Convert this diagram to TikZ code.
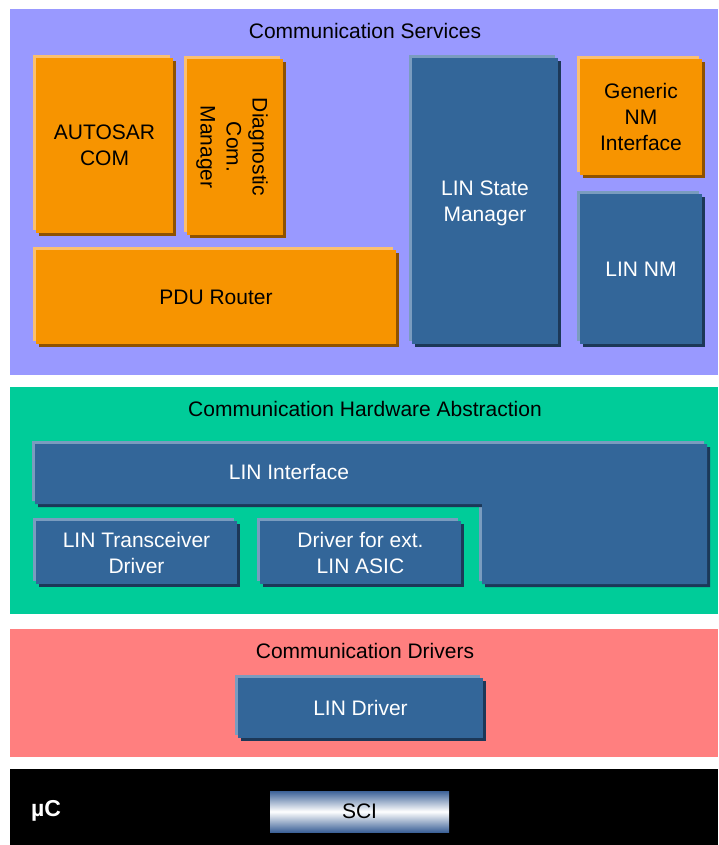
\documentclass[tikz,border=0pt]{standalone}
\usepackage{fontspec}
\setmainfont{Liberation Sans}
\definecolor{svc}{HTML}{9999FF}
\definecolor{hwa}{HTML}{00CC99}
\definecolor{drv}{HTML}{FF7F7F}
\definecolor{orF}{HTML}{F79400}
\definecolor{orL}{HTML}{FBC070}
\definecolor{orD}{HTML}{8F5200}
\definecolor{blF}{HTML}{336699}
\definecolor{blL}{HTML}{7A9CBF}
\definecolor{blD}{HTML}{1C3858}
\definecolor{sciB}{HTML}{3D6298}
\colorlet{orT}{black}
\colorlet{blT}{white}
\newcommand\bevbox[8]{%
  \fill[#6L] (#2-3,#3-3) rectangle (#4-3,#5-3);
  \fill[#6D] (#2+3,#3+3) rectangle (#4+3,#5+3);
  \node[fill=#6F, text=#6T, txt, align=center, inner sep=0pt, outer sep=0pt,
        minimum width={#4-#2}, minimum height={#5-#3}, #7] (#1)
        at ({(#2+#4)/2},{(#3+#5)/2}) {#8};%
}
\begin{document}
\begin{tikzpicture}[x=1pt,y=-1pt,
  txt/.style={font=\fontsize{21}{26}\selectfont},
  layer/.style={anchor=north west, inner sep=0pt, outer sep=0pt, minimum width=708},
  ttl/.style={txt, text=black, inner sep=0pt}]
\useasboundingbox (0,0) rectangle (718,845);
\fill[white] (0,0) rectangle (718,845);
% layers
\node[layer, fill=svc, minimum height=366] (services) at (10,9) {};
\node[layer, fill=hwa, minimum height=227] (hwabs) at (10,387) {};
\node[layer, fill=drv, minimum height=128] (drivers) at (10,629) {};
\node[layer, fill=black, minimum height=76] (mcu) at (10,769) {};
\node[ttl] (tsvc) at (365,31) {Communication Services};
\node[ttl] (thwa) at (365,409) {Communication Hardware Abstraction};
\node[ttl] (tdrv) at (365,651) {Communication Drivers};
% communication services
\bevbox{acom}{36}{58}{173}{233}{or}{}{AUTOSAR\\COM}
\bevbox{dcm}{187}{59}{283}{235}{or}{}{}
\node[txt, text=black, rotate=-90, align=center, inner sep=0pt] (dcmtxt) at ([xshift=-3]dcm.center) {Diagnostic\\Com.\\Manager};
\bevbox{pdur}{36}{250}{396}{344}{or}{}{PDU Router}
\bevbox{linsm}{412}{58}{558}{344}{bl}{}{}
\node[txt, text=white, align=center, inner sep=0pt] (linsmtxt) at (485,203) {LIN State\\Manager};
\bevbox{gnm}{580}{59}{702}{175}{or}{}{Generic\\NM\\Interface}
\bevbox{linnm}{580}{194}{702}{344}{bl}{}{LIN NM}
% hardware abstraction
\fill[blL] (35-3,444-3) -- (707-3,444-3) -- (707-3,584-3) -- (482-3,584-3) -- (482-3,504-3) -- (35-3,504-3) -- cycle;
\fill[blD] (35+3,444+3) -- (707+3,444+3) -- (707+3,584+3) -- (482+3,584+3) -- (482+3,504+3) -- (35+3,504+3) -- cycle;
\fill[blF] (35,444) -- (707,444) -- (707,584) -- (482,584) -- (482,504) -- (35,504) -- cycle;
\node[txt, text=white, inner sep=0pt] (linif) at (289,472) {LIN Interface};
\bevbox{lintrcv}{36}{521}{237}{584}{bl}{}{LIN Transceiver\\Driver}
\bevbox{extasic}{260}{521}{461}{584}{bl}{}{Driver for ext.\\LIN ASIC}
% drivers
\bevbox{lindrv}{238}{678}{483}{738}{bl}{}{LIN Driver}
% microcontroller
\shade[top color=sciB, bottom color=sciB, middle color=white] (270,791) rectangle (449,832);
\node[txt, text=black, inner sep=0pt] (sci) at (359.5,811.5) {SCI};
\node[text=white, font=\fontsize{23}{28}\selectfont\bfseries, inner sep=0pt] (muc) at (46,811) {µC};
\end{tikzpicture}
\end{document}
